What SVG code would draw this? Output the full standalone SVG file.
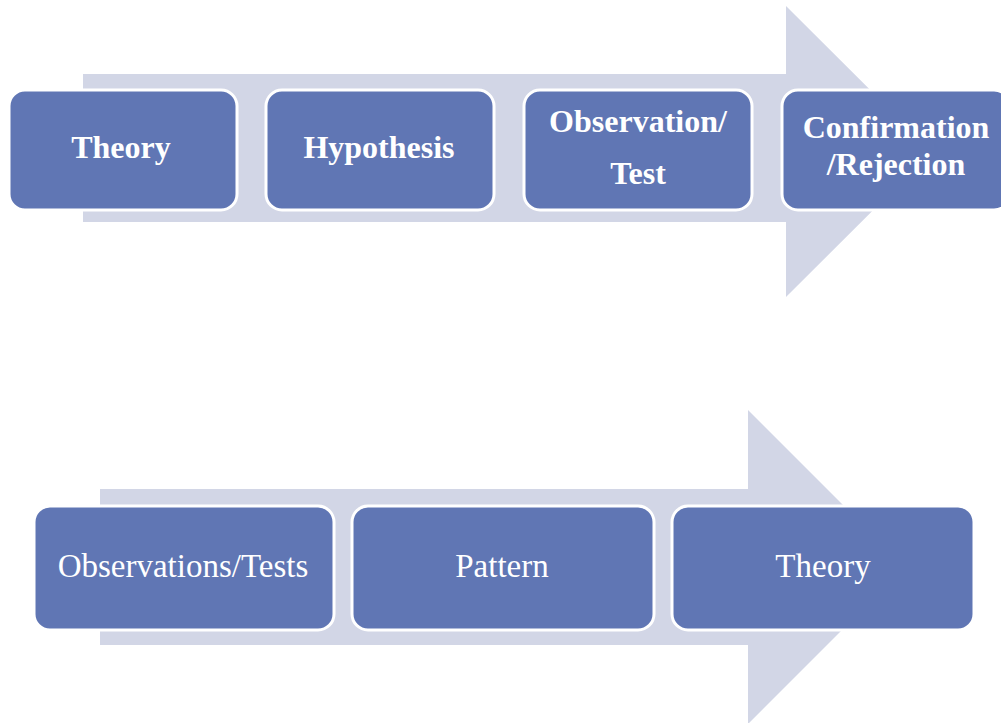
<svg xmlns="http://www.w3.org/2000/svg" width="1001" height="723" viewBox="0 0 1001 723">
<style>
.arrow{fill:#d2d6e6}
.box{fill:#6076b4;stroke:#ffffff;stroke-width:3}
.tb{font-family:"Liberation Serif",serif;font-weight:bold;font-size:32px;fill:#ffffff;text-anchor:middle}
.tr{font-family:"Liberation Serif",serif;font-size:33px;fill:#ffffff;text-anchor:middle}
</style>
<rect width="1001" height="723" fill="#ffffff"/>
<g id="connectors">
<polygon class="arrow" points="83,74 786,74 786,6 932,151.5 786,297 786,222 83,222"/>
<polygon class="arrow" points="100,489 748,489 748,410 905,567 748,724 748,645 100,645"/>
</g>
<g id="n1"><rect class="box" x="9" y="90" width="228" height="120" rx="16"/><text class="tb" x="121" y="158">Theory</text></g>
<g id="n2"><rect class="box" x="266" y="90" width="228" height="120" rx="16"/><text class="tb" x="379" y="158">Hypothesis</text></g>
<g id="n3"><rect class="box" x="524" y="90" width="228" height="120" rx="16"/><text class="tb" x="638" y="132">Observation/</text><text class="tb" x="638" y="184">Test</text></g>
<g id="n4"><rect class="box" x="782" y="90" width="228" height="120" rx="16"/><text class="tb" x="896" y="138">Confirmation</text><text class="tb" x="896" y="175">/Rejection</text></g>
<g id="m1"><rect class="box" x="34" y="506" width="300" height="124" rx="16"/><text class="tr" x="183" y="577">Observations/Tests</text></g>
<g id="m2"><rect class="box" x="352" y="506" width="302" height="124" rx="16"/><text class="tr" x="502" y="577">Pattern</text></g>
<g id="m3"><rect class="box" x="672" y="506" width="302" height="124" rx="16"/><text class="tr" x="823" y="577">Theory</text></g>
</svg>
